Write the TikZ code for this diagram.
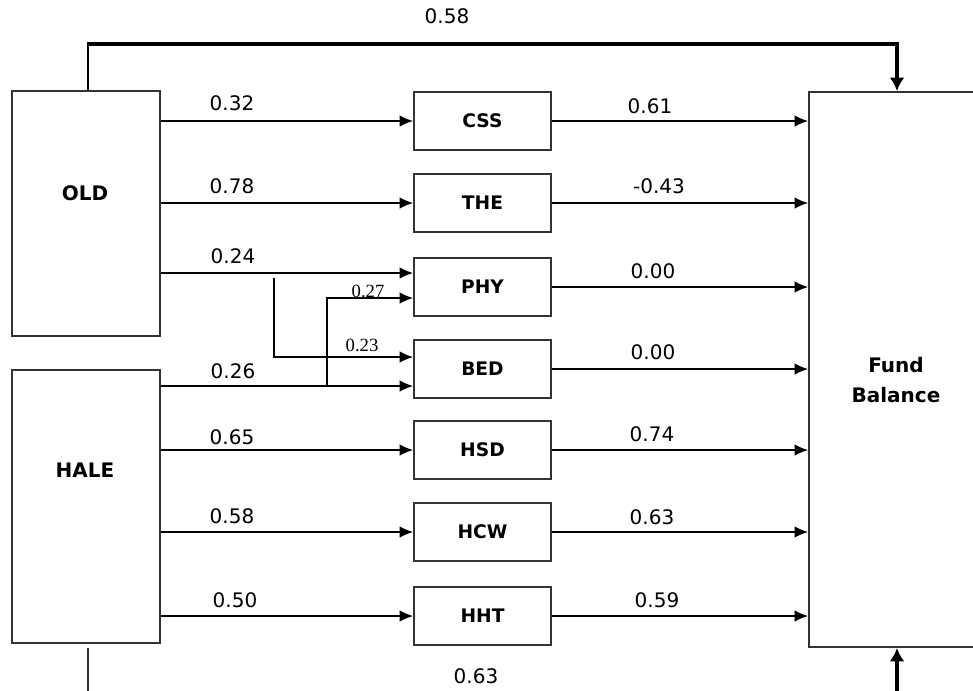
\documentclass[tikz,border=0pt]{standalone}
\usepackage{fontspec}
\setmainfont{DejaVu Sans}
\newfontfamily\serifnum{Liberation Serif}
\usetikzlibrary{arrows.meta}
\begin{document}
\begin{tikzpicture}[x=0.75pt,y=-0.75pt,
  box/.style={draw=black!80, line width=1.4pt, inner sep=0pt},
  midbox/.style={box, minimum width=102.75pt, minimum height=43.5pt, font=\bfseries\fontsize{14}{16}\selectfont},
  bigtext/.style={font=\bfseries\fontsize{15}{22.5}\selectfont, align=center, inner sep=0pt},
  lab/.style={font=\fontsize{15}{18}\selectfont, inner sep=0pt},
  smalllab/.style={font=\serifnum\fontsize{14}{16}\selectfont, inner sep=0pt},
  arr/.style={-{Latex[length=10pt,width=8.5pt]}, line width=1pt},
  fb/.style={-{Latex[length=10pt,width=11pt]}, line width=2.6pt},
]
\useasboundingbox (0,0) rectangle (973,690);
% main boxes
\node[box, minimum width=111pt, minimum height=183.75pt] (old) at (86,213.5) {};
\node[bigtext] (oldt) at (85,193) {OLD};
\node[box, minimum width=111pt, minimum height=204.75pt] (hale) at (86,506.5) {};
\node[bigtext] (halet) at (85,470) {HALE};
\node[box, minimum width=132pt, minimum height=416.25pt] (fund) at (897,369.5) {};
\node[bigtext] (fundt) at (896,380) {Fund\\Balance};
% middle boxes
\node[midbox] (css) at (482.5,121) {CSS};
\node[midbox] (the) at (482.5,203) {THE};
\node[midbox] (phy) at (482.5,287) {PHY};
\node[midbox] (bed) at (482.5,369) {BED};
\node[midbox] (hsd) at (482.5,450) {HSD};
\node[midbox] (hcw) at (482.5,532) {HCW};
\node[midbox] (hht) at (482.5,616) {HHT};
% input arrows
\draw[arr] (old.east |- css.west) -- (css.west);
\draw[arr] (old.east |- the.west) -- (the.west);
\coordinate (p1) at ([yshift=10.5pt]phy.west);
\coordinate (p2) at ([yshift=-8.25pt]phy.west);
\coordinate (b1) at ([yshift=9pt]bed.west);
\coordinate (b2) at ([yshift=-12.75pt]bed.west);
\draw[arr] (old.east |- p1) -- (p1);
\coordinate (v1) at (274,278);
\draw[arr] (v1) |- (b1);
\draw[arr] (hale.east |- b2) -- (b2);
\coordinate (v2) at (327,0);
\draw[arr] (v2 |- b2) |- (p2);
\draw[arr] (hale.east |- hsd.west) -- (hsd.west);
\draw[arr] (hale.east |- hcw.west) -- (hcw.west);
\draw[arr] (hale.east |- hht.west) -- (hht.west);
% output arrows
\foreach \n in {css,the,phy,bed,hsd,hcw,hht}
  \draw[arr] (\n.east) -- (\n.east -| fund.west);
% feedback lines
\coordinate (topc) at ([xshift=1.5pt]old.north |- 0,44);
\draw[line width=1.5pt] ([xshift=1.5pt]old.north) -- ([yshift=-1pt]topc);
\draw[fb] ([xshift=-0.6pt]topc) -| (fund.north);
\coordinate (lb) at (0,700);
\draw[line width=1.4pt, draw=black!80] ([yshift=-3pt,xshift=1.5pt]hale.south) -- ([xshift=1.5pt]hale.south |- lb);
\draw[fb] (fund.south |- lb) -- (fund.south);
% labels
\node[lab] (l0) at (447,16) {0.58};
\node[lab] (l1) at (232,103) {0.32};
\node[lab] (l2) at (232,186) {0.78};
\node[lab] (l3) at (233,256) {0.24};
\node[lab] (l4) at (233,371) {0.26};
\node[lab] (l5) at (232,437) {0.65};
\node[lab] (l6) at (232,516) {0.58};
\node[lab] (l7) at (235,600) {0.50};
\node[smalllab] (s1) at (368,291) {0.27};
\node[smalllab] (s2) at (362,345) {0.23};
\node[lab] (r1) at (650,106) {0.61};
\node[lab] (r2) at (659,186) {-0.43};
\node[lab] (r3) at (653,271) {0.00};
\node[lab] (r4) at (653,352) {0.00};
\node[lab] (r5) at (652,434) {0.74};
\node[lab] (r6) at (652,517) {0.63};
\node[lab] (r7) at (657,600) {0.59};
\node[lab] (bt) at (476,676) {0.63};
\end{tikzpicture}
\end{document}
